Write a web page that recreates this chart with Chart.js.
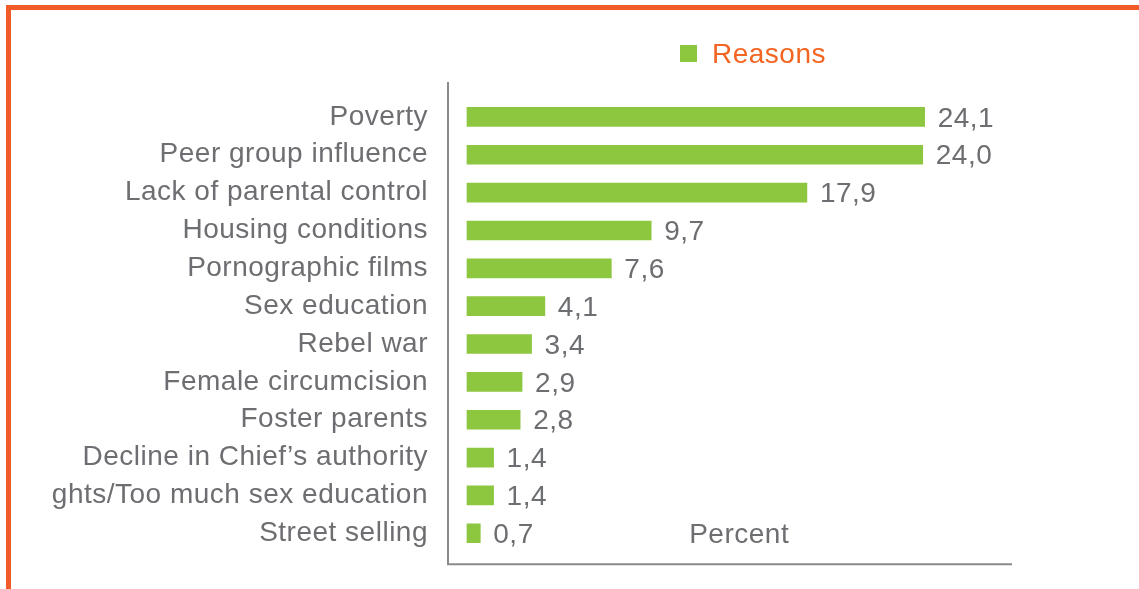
<!DOCTYPE html>
<html>
<head>
<meta charset="utf-8">
<script src="https://cdn.jsdelivr.net/npm/chart.js@4/dist/chart.umd.min.js"></script>
<style>
  html, body { margin: 0; padding: 0; background: #fff; }
  body { width: 1139px; height: 589px; position: relative; overflow: hidden; }
  .frame {
    position: absolute; left: 6px; top: 5px; right: 0; bottom: 0;
    border-top: 5px solid #f15a29; border-left: 5px solid #f15a29;
  }
  .wrap { position: absolute; left: 53px; top: 0; width: 1086px; height: 589px; }
</style>
</head>
<body>
<div class="frame"></div>
<div class="wrap"><canvas id="chart"></canvas></div>
<script>
const categories = [
  'Poverty',
  'Peer group influence',
  'Lack of parental control',
  'Housing conditions',
  'Pornographic films',
  'Sex education',
  'Rebel war',
  'Female circumcision',
  'Foster parents',
  'Decline in Chief’s authority',
  'Children’s rights/Too much sex education',
  'Street selling'
];
const reasons = [24.1, 24.0, 17.9, 9.7, 7.6, 4.1, 3.4, 2.9, 2.8, 1.4, 1.4, 0.7];
const seriesName = 'Reasons';
const axisTitle = 'Percent';

const GREEN = '#8dc63f';
const ORANGE = '#f26522';
const GREY = '#6d6e71';
const AXIS = '#8a8a8a';
const FONT = '"Liberation Sans", Arial, sans-serif';
const SIZE = 28;

const fmt = v => v.toFixed(1).replace('.', ',');

// slightly looser tracking for all canvas text
const tracking = {
  id: 'tracking',
  beforeDraw(chart) { chart.ctx.letterSpacing = '0.5px'; }
};

// axis frame, value labels, axis title and the single legend entry
const decorations = {
  id: 'decorations',
  afterDatasetsDraw(chart) {
    const { ctx, chartArea: area, scales } = chart;
    const x = scales.x, y = scales.y;
    ctx.save();

    ctx.strokeStyle = AXIS;
    ctx.lineWidth = 2;
    ctx.beginPath();
    ctx.moveTo(area.left, area.top - 16);
    ctx.lineTo(area.left, area.bottom + 12);
    ctx.lineTo(area.right, area.bottom + 12);
    ctx.stroke();

    ctx.font = `${SIZE}px ${FONT}`;
    ctx.fillStyle = GREY;
    ctx.textAlign = 'left';
    ctx.textBaseline = 'middle';
    chart.getDatasetMeta(0).data.forEach((bar, i) => {
      ctx.fillText(fmt(reasons[i]), bar.x + 13, bar.y + 2);
    });

    ctx.fillText(axisTitle, x.getPixelForValue(11.7), y.getPixelForValue(categories.length - 1) + 2);

    const lx = area.left + 232, ly = area.top - 45;
    ctx.fillStyle = GREEN;
    ctx.fillRect(lx, ly - 8, 17, 17);
    ctx.fillStyle = ORANGE;
    ctx.fillText(seriesName, lx + 32, ly + 2);
    ctx.restore();
  }
};

new Chart(document.getElementById('chart'), {
  type: 'bar',
  data: {
    labels: categories,
    datasets: [{
      label: seriesName,
      data: reasons,
      backgroundColor: GREEN,
      barThickness: 19
    }]
  },
  options: {
    indexAxis: 'y',
    responsive: true,
    maintainAspectRatio: false,
    animation: false,
    layout: { padding: { top: 98, bottom: 34, right: 127, left: 0 } },
    plugins: {
      legend: { display: false },
      tooltip: { enabled: false }
    },
    scales: {
      x: {
        display: false,
        min: -1,
        max: 28.7
      },
      y: {
        grid: { display: false, drawTicks: false },
        border: { display: false },
        ticks: {
          color: GREY,
          font: { family: FONT, size: SIZE },
          padding: 20
        },
        afterFit(scale) { scale.width = 395; }
      }
    }
  },
  plugins: [tracking, decorations]
});
</script>
</body>
</html>
